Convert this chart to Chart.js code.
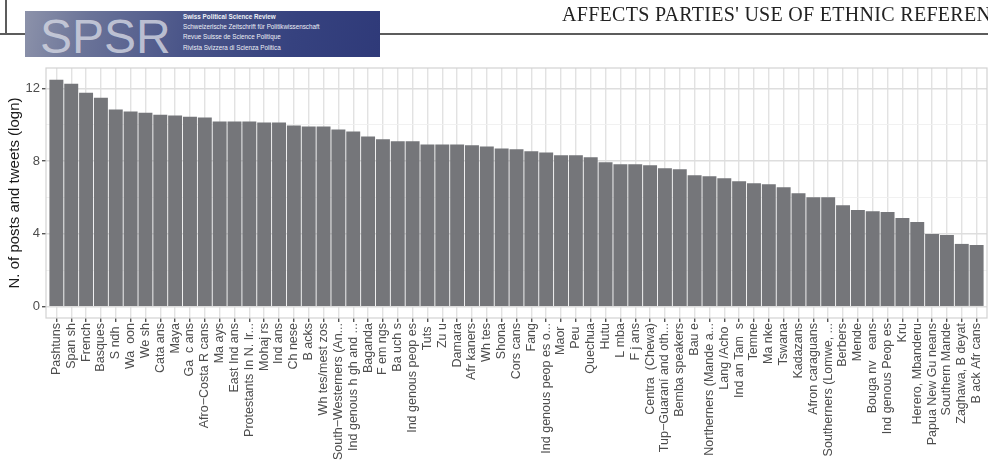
<!DOCTYPE html>
<html>
<head>
<meta charset="utf-8">
<script src="https://cdn.jsdelivr.net/npm/chart.js@4.4.1/dist/chart.umd.min.js"></script>
<style>
  html, body { margin: 0; padding: 0; background: #ffffff; overflow: hidden; }
  #page { position: relative; width: 988px; height: 462px; overflow: hidden; }
  #chartBox { position: absolute; left: 0; top: 0; width: 988px; height: 462px; }
  .rule { position: absolute; background: #5c5c5c; }
  #banner {
    position: absolute; left: 25px; top: 11px; width: 355px; height: 46px; overflow: hidden;
    background: linear-gradient(100deg, #8c92aa 0%, #6a7398 18%, #4a5589 45%, #36427f 75%, #2f3a79 100%);
  }
  #banner .logo {
    position: absolute; left: 15px; top: -2px; line-height: 48px;
    font: 48px "Liberation Sans", Arial, sans-serif; color: rgba(214, 217, 228, 0.78);
  }
  #banner .lines {
    position: absolute; left: 158px; top: 1px;
    font: 6.3px/10.2px "Liberation Sans", Arial, sans-serif; color: #eef0f7; white-space: nowrap;
  }
  #banner .lines b { font-weight: bold; }
  #running {
    position: absolute; left: 562px; top: 3px; line-height: 20px; white-space: nowrap;
    font: 20px "Liberation Serif", "Times New Roman", serif; letter-spacing: 0.3px; color: #222222;
  }
</style>
</head>
<body>
<div id="page">
  <div id="chartBox"><canvas id="chart"></canvas></div>
  <div class="rule" style="left:5px; top:0; width:1.5px; height:34px;"></div>
  <div class="rule" style="left:0; top:32.5px; width:26px; height:2px;"></div>
  <div class="rule" style="left:380px; top:32.5px; width:608px; height:2px;"></div>
  <div id="banner">
    <div class="logo">SPSR</div>
    <div class="lines">
      <b>Swiss Political Science Review</b><br>
      Schweizerische Zeitschrift für Politikwissenschaft<br>
      Revue Suisse de Science Politique<br>
      Rivista Svizzera di Scienza Politica
    </div>
  </div>
  <div id="running">AFFECTS PARTIES' USE OF ETHNIC REFERENCES</div>
</div>

<script>
// Ethnic groups, ordered by volume of posts and tweets
const categories = [
  "Pashtuns", "Span sh", "French", "Basques", "S ndh ", "Wa  oon", "We sh", "Cata ans",
  "Maya", "Ga  c ans", "Afro\u2212Costa R cans", "Ma ays", "East Ind ans", "Protestants In N. Ir...",
  "Mohaj rs", "Ind ans", "Ch nese", "B acks", "Wh tes/mest zos", "South\u2212Westerners (An...",
  "Ind genous h gh and ...", "Baganda", "F em ngs", "Ba uch s", "Ind genous peop es", "Tuts ",
  "Zu u", "Damara", "Afr kaners", "Wh tes", "Shona", "Cors cans", "Fang",
  "Ind genous peop es o...", "Maor ", "Peu ", "Quechua", "Hutu", "L mba", "F j ans",
  "Centra  (Chewa)", "Tup\u2212Guaraní and oth...", "Bemba speakers", "Bau e",
  "Northerners (Mande a...", "Lang /Acho ", "Ind an Tam  s", "Temne", "Ma nke", "Tswana",
  "Kadazans", "Afron caraguans", "Southerners (Lomwe, ...", "Berbers", "Mende",
  "Bouga nv   eans", "Ind genous Peop es", "Kru", "Herero, Mbanderu", "Papua New Gu neans",
  "Southern Mande", "Zaghawa, B deyat", "B ack Afr cans"
];

// N. of posts and tweets, natural log
const postsLog = [
  12.48, 12.26, 11.77, 11.49, 10.84, 10.73, 10.67, 10.56,
  10.51, 10.45, 10.40, 10.18, 10.18, 10.18,
  10.13, 10.13, 9.96, 9.91, 9.91, 9.74,
  9.63, 9.36, 9.20, 9.09, 9.09, 8.92,
  8.92, 8.92, 8.87, 8.81, 8.70, 8.65, 8.54,
  8.48, 8.32, 8.32, 8.21, 7.94, 7.83, 7.83,
  7.77, 7.61, 7.55, 7.22,
  7.17, 7.06, 6.90, 6.79, 6.73, 6.57,
  6.24, 6.02, 6.02, 5.58, 5.31,
  5.25, 5.20, 4.87, 4.65, 4.00,
  3.94, 3.45, 3.39
];

// Labelled (major) and unlabelled (minor) y gridlines
const yMajorTicks = [0, 4, 8, 12];
const yMinorTicks = [2, 6, 10];

const FONT = '"Liberation Sans", Arial, Helvetica, sans-serif';

// Discrete axis with 0.6 category of padding on each end
class PaddedCategoryScale extends Chart.CategoryScale {
  configure() {
    super.configure();
    this._startValue -= 0.1;
    this._valueRange += 0.2;
  }
}
PaddedCategoryScale.id = 'paddedCategory';
PaddedCategoryScale.defaults = Chart.CategoryScale.defaults;
Chart.register(PaddedCategoryScale);

// Light frame around the plotting panel
const panelBorder = {
  id: 'panelBorder',
  afterDatasetsDraw(chart) {
    const { ctx, chartArea: a } = chart;
    ctx.save();
    ctx.strokeStyle = '#d2d2d2';
    ctx.lineWidth = 1.2;
    ctx.strokeRect(a.left, a.top, a.right - a.left, a.bottom - a.top);
    ctx.restore();
  }
};

const isMajor = v => yMajorTicks.includes(v);

new Chart(document.getElementById('chart'), {
  type: 'bar',
  data: {
    labels: categories,
    datasets: [{
      data: postsLog,
      backgroundColor: '#75767a',
      borderWidth: 0,
      barPercentage: 0.94,
      categoryPercentage: 1.0
    }]
  },
  options: {
    responsive: true,
    maintainAspectRatio: false,
    animation: false,
    layout: { padding: { top: 68, right: 1, bottom: 0, left: 0 } },
    plugins: {
      legend: { display: false },
      tooltip: { enabled: false }
    },
    scales: {
      x: {
        type: 'paddedCategory',
        offset: true,
        border: { display: false },
        grid: {
          offset: false,
          color: '#e2e2e2',
          lineWidth: 1.4,
          drawTicks: true,
          tickLength: 4,
          tickColor: '#555555'
        },
        ticks: {
          autoSkip: false,
          minRotation: 90,
          maxRotation: 90,
          padding: 1,
          color: '#4d4d4d',
          font: { family: FONT, size: 12.5 }
        },
        afterFit(scale) {
          scale.height = 144;
          scale.paddingLeft = 0;
          scale.paddingRight = 0;
        }
      },
      y: {
        min: -0.625,
        max: 13.125,
        border: { display: false },
        afterBuildTicks(scale) {
          scale.ticks = yMajorTicks.concat(yMinorTicks)
            .sort((a, b) => a - b)
            .map(v => ({ value: v }));
        },
        afterFit(scale) {
          scale.width = 46;
        },
        grid: {
          color: ctx => isMajor(ctx.tick.value) ? '#dedede' : '#efefef',
          lineWidth: ctx => isMajor(ctx.tick.value) ? 1.4 : 0.9,
          drawTicks: true,
          tickLength: 4,
          tickColor: ctx => isMajor(ctx.tick.value) ? '#555555' : 'rgba(0,0,0,0)'
        },
        ticks: {
          autoSkip: false,
          padding: 2,
          color: '#4d4d4d',
          font: { family: FONT, size: 13 },
          callback: v => isMajor(v) ? String(v) : ''
        },
        title: {
          display: true,
          text: 'N. of posts and tweets (logn)',
          color: '#1a1a1a',
          font: { family: FONT, size: 15 },
          padding: { top: 6, bottom: 0 }
        }
      }
    }
  },
  plugins: [panelBorder]
});
</script>
</body>
</html>
